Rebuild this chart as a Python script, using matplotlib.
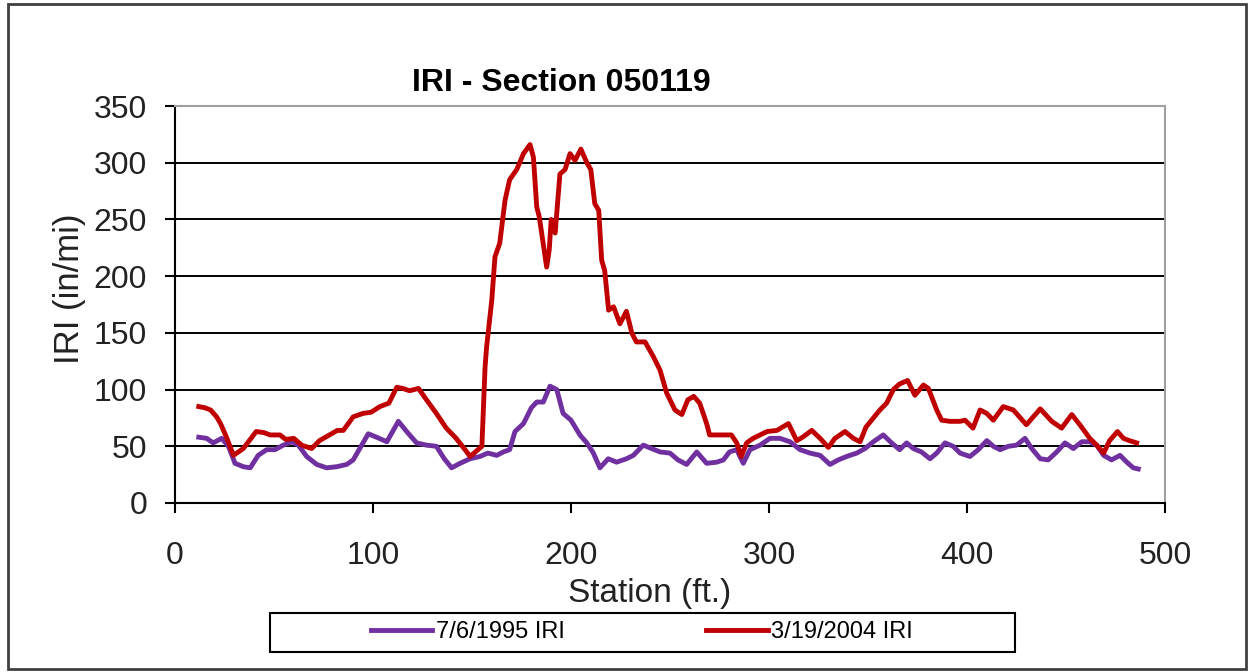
import matplotlib
matplotlib.use("Agg")
import matplotlib.pyplot as plt
from matplotlib.patches import Rectangle

plt.rcParams['font.family'] = ['Liberation Sans', 'DejaVu Sans']

# IRI 7/6/1995
st_1995 = [12, 16, 19.3, 23.6, 27, 30.3, 34.5, 38, 42, 46.3,
           50.5, 54.7, 59, 62.3, 66.5, 71.6, 76.6, 81.7, 86.7, 90,
           94.3, 97.6, 101.8, 107, 112.8, 117.5, 122, 127, 132, 136,
           139.7, 144, 149, 154, 158, 162.5, 165.8, 169, 171.7, 176,
           180, 182.7, 186, 189.4, 192.8, 196, 200, 204.5, 208, 211.3,
           214.6, 218.8, 223, 228, 231.5, 236.5, 240.7, 245, 250, 254,
           258.4, 263.5, 268.5, 273.6, 277, 280, 283.7, 287, 290.4, 295.5,
           300.5, 305.5, 310.6, 315.7, 320.7, 325.8, 330.8, 335, 339.2, 344.3,
           348.5, 352.7, 357.7, 361.9, 366, 369.5, 372.9, 377, 381.3, 384.7,
           388.9, 393, 396.5, 401.5, 405.7, 410, 413.3, 416.7, 420.9, 425,
           429.3, 432.7, 437, 441, 445.3, 449.5, 453.7, 458, 462, 465.5,
           469, 473, 477.3, 480.7, 484, 486.5]
iri_1995 = [58, 57, 53, 57, 50, 35, 32, 31, 42, 47,
            47, 51, 54, 51, 41, 34, 31, 32, 34, 38,
            51, 61, 58, 54, 72, 62, 53, 51, 50, 39,
            31, 35, 39, 41, 44, 42, 45, 47, 63, 70,
            84, 89, 89, 103, 100, 79, 73, 60, 53, 44,
            31, 39, 36, 39, 42, 51, 48, 45, 44, 38,
            34, 45, 35, 36, 38, 45, 47, 35, 47, 51,
            57, 57, 54, 47, 44, 42, 34, 38, 41, 44,
            48, 54, 60, 53, 47, 53, 48, 45, 39, 44,
            53, 50, 44, 41, 47, 55, 50, 47, 50, 51,
            57, 48, 39, 38, 45, 53, 48, 54, 54, 51,
            42, 38, 42, 36, 31, 30]

# IRI 3/19/2004
st_2004 = [12, 15, 18, 21, 23, 26, 29.5, 32, 34.5, 38,
           41, 45, 48, 53, 56, 60, 64, 69, 73, 78,
           82, 85, 90, 95, 99, 103.5, 108, 112, 115, 118.5,
           123, 127, 132, 137, 142, 146.5, 149, 153, 155, 156.6,
           157.4, 160, 161.6, 164, 166.7, 169, 172.6, 176, 179.3, 181,
           182.7, 184, 187.7, 189, 190, 192, 194.4, 197, 199.5, 202,
           205, 208, 210, 212, 214, 215.5, 217, 219, 221.5, 224.7,
           228, 230.7, 233, 237.4, 241.6, 245, 248.3, 252.5, 256, 259,
           262, 265, 268.5, 270, 275, 281, 283.7, 286, 288.7, 292,
           295.5, 299, 304, 309.8, 314, 317, 321.6, 325.8, 330, 333.3,
           338.4, 342.6, 346, 349, 352.7, 356, 359.4, 362.8, 366, 370,
           373.7, 378, 380.5, 384.7, 387.2, 391.4, 396.5, 399, 403, 406.6,
           410, 413.3, 418.3, 423.4, 430, 437, 442.8, 447.8, 452.9, 457,
           462, 465.5, 469, 472, 476, 479, 482, 485.7]
iri_2004 = [85, 84, 82, 76, 70, 58, 42, 45, 48, 56,
            63, 62, 60, 60, 56, 57, 51, 48, 55, 60,
            64, 64, 76, 79, 80, 85, 88, 102, 101, 99,
            101, 91, 79, 66, 57, 47, 41, 47, 50, 120,
            138, 179, 217, 229, 267, 285, 294, 308, 316, 305,
            261, 252, 208, 223, 250, 238, 290, 294, 308, 302,
            312, 300, 294, 264, 258, 214, 205, 170, 173, 158,
            169, 150, 142, 142, 129, 117, 97, 82, 78, 91,
            94, 88, 70, 60, 60, 60, 53, 41, 53, 57,
            60, 63, 64, 70, 55, 58, 64, 57, 49, 57,
            63, 57, 54, 67, 75, 82, 88, 100, 105, 108,
            95, 104, 101, 82, 73, 72, 72, 73, 66, 82,
            79, 73, 85, 82, 69, 83, 72, 66, 78, 69,
            57, 51, 44, 55, 63, 57, 55, 53]

W, H = 1252, 672
fig = plt.figure(figsize=(W / 100, H / 100), dpi=100)
ax = fig.add_axes([175 / W, 1 - 503 / H, 990 / W, 397 / H])

l1, = ax.plot(st_1995, iri_1995, color='#7030A0', lw=3.5, label='7/6/1995 IRI')
l2, = ax.plot(st_2004, iri_2004, color='#C00000', lw=3.5, label='3/19/2004 IRI')

ax.set_xlim(0, 500)
ax.set_ylim(0, 350)
ax.set_xticks(range(0, 501, 100))
ax.set_yticks(range(0, 351, 50))
ax.grid(axis='y', color='black', lw=1.4)
ax.set_axisbelow(True)
for s in ['top', 'right']:
    ax.spines[s].set_color('#A0A0A0')
    ax.spines[s].set_linewidth(1.5)
for s in ['left', 'bottom']:
    ax.spines[s].set_color('black')
    ax.spines[s].set_linewidth(1.5)
ax.tick_params(axis='both', direction='out', length=7, width=1.5,
               labelsize=23, colors='black', labelcolor='#222222')
ax.tick_params(axis='y', pad=13)
ax.tick_params(axis='x', pad=20)

ax.set_xlabel('Station (ft.)', fontsize=24, color='#222222')
ax.xaxis.set_label_coords(0.479, -0.19)
ax.set_ylabel('IRI (in/mi)', fontsize=25, color='#222222')
ax.yaxis.set_label_coords(-0.09, 0.54)

fig.text(561 / W, 1 - 83 / H, 'IRI - Section 050119', fontsize=23,
         fontweight='bold', ha='center', va='center')

# legend box
fig.patches.append(Rectangle((270 / W, 1 - 652 / H), 745 / W, 39 / H,
                             transform=fig.transFigure, fill=False,
                             edgecolor='black', lw=1.5))
fig.legend(handles=[l1, l2], loc='center', bbox_to_anchor=(642 / W, 1 - 632 / H),
           ncol=2, frameon=False, fontsize=17, handlelength=2.6,
           handletextpad=0.15, columnspacing=6.0)

# outer border
fig.patches.append(Rectangle((8 / W, 3 / H), 1238 / W, 665 / H,
                             transform=fig.transFigure, fill=False,
                             edgecolor='#404040', lw=2))

fig.savefig('out.png', dpi=100)
